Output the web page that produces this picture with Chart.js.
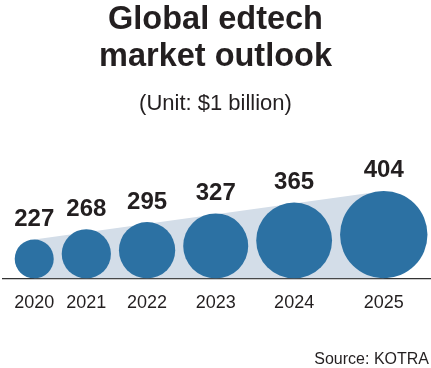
<!DOCTYPE html>
<html>
<head>
<meta charset="utf-8">
<script src="https://cdn.jsdelivr.net/npm/chart.js@4.4.1/dist/chart.umd.min.js"></script>
<style>
  body { margin: 0; background: #fff; }
  canvas { display: block; }
</style>
</head>
<body>
<canvas id="edtechChart" width="431" height="368"></canvas>
<script>
const years = ['2020', '2021', '2022', '2023', '2024', '2025'];
const values = [227, 268, 295, 327, 365, 404];
const sourceText = 'Source: KOTRA';

const FONT = "'Liberation Sans', Arial, Helvetica, sans-serif";
const INK = '#231f20';

// bubble size grows with the value (pixels)
function bubbleRadius(v) {
  return 19.5 * Math.pow(v / values[0], 1.4);
}

// bubbles sit side by side on the baseline, x/y scales are in pixels
const gap = 8;
const points = [];
let edge = 12;
values.forEach(function (v) {
  const r = bubbleRadius(v);
  points.push({ x: edge + r, y: r, r: r });
  edge += 2 * r + gap;
});
const first = points[0];
const last = points[points.length - 1];

// make both scales 1 unit = 1 pixel of the chart area
const pixelScales = {
  id: 'pixelScales',
  afterLayout(chart) {
    const x = chart.scales.x;
    const y = chart.scales.y;
    x.min = 0; x.max = x.right - x.left; x.configure();
    y.min = 0; y.max = y.bottom - y.top; y.configure();
  }
};

const valueLabels = {
  id: 'valueLabels',
  afterDatasetsDraw(chart) {
    const ctx = chart.ctx;
    const meta = chart.getDatasetMeta(1);
    ctx.save();
    ctx.font = 'bold 24px ' + FONT;
    ctx.fillStyle = INK;
    ctx.textAlign = 'center';
    ctx.textBaseline = 'alphabetic';
    meta.data.forEach(function (el, i) {
      ctx.fillText(values[i], el.x, el.y - bubbleRadius(values[i]) - 13.5);
    });
    ctx.restore();
  },
  afterDraw(chart) {
    const ctx = chart.ctx;
    ctx.save();
    ctx.font = '16px ' + FONT;
    ctx.fillStyle = INK;
    ctx.textAlign = 'right';
    ctx.textBaseline = 'alphabetic';
    ctx.fillText(sourceText, chart.width - 2, 364);
    ctx.restore();
  }
};

var ctx = document.getElementById('edtechChart').getContext('2d');
var myChart = new Chart(ctx, {
  type: 'bubble',
  data: {
    datasets: [{
      type: 'line',
      label: 'trend',
      data: [{ x: first.x, y: 2 * first.r }, { x: last.x, y: 2 * last.r }],
      fill: 'origin',
      backgroundColor: '#d3dde8',
      borderWidth: 0,
      pointRadius: 0,
      order: 2
    }, {
      label: 'Market size',
      data: points,
      backgroundColor: '#2c71a3',
      borderWidth: 0,
      hoverRadius: 0,
      order: 1
    }]
  },
  options: {
    responsive: false,
    animation: false,
    layout: {
      autoPadding: false,
      padding: { top: 0, left: 0, right: 0, bottom: 40 }
    },
    scales: {
      x: {
        type: 'linear',
        min: 0,
        max: 431,
        grid: { display: false, drawTicks: false },
        border: { display: true, color: '#333', width: 1.2 },
        afterBuildTicks(scale) {
          scale.ticks = points.map(function (p) { return { value: p.x }; });
        },
        ticks: {
          autoSkip: false,
          maxRotation: 0,
          padding: 14,
          color: INK,
          font: { family: FONT, size: 18 },
          callback: function (val, i) { return years[i]; }
        }
      },
      y: {
        display: false,
        min: 0,
        max: 200
      }
    },
    plugins: {
      legend: { display: false },
      tooltip: { enabled: false },
      title: {
        display: true,
        text: ['Global edtech', 'market outlook'],
        color: INK,
        font: { family: FONT, size: 32.5, weight: 'bold', lineHeight: 1.15 },
        padding: { top: 1, bottom: 15 }
      },
      subtitle: {
        display: true,
        text: '(Unit: $1 billion)',
        color: INK,
        font: { family: FONT, size: 22, lineHeight: 1.2 },
        padding: { top: 0, bottom: 10 }
      }
    }
  },
  plugins: [pixelScales, valueLabels]
});
</script>
</body>
</html>
